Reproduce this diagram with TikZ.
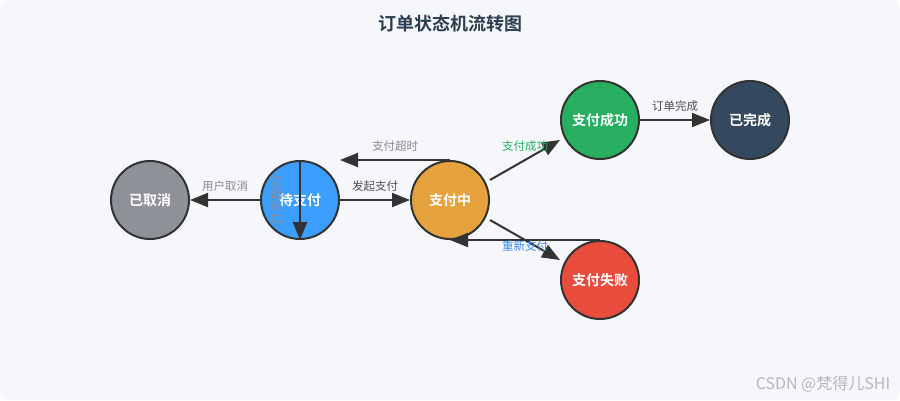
\documentclass[tikz,border=0pt]{standalone}
\usepackage{fontspec}
\setmainfont{Noto Sans CJK SC}[BoldFont={Noto Sans CJK SC Bold}]
\usetikzlibrary{arrows.meta, positioning}
\definecolor{bgpage}{HTML}{F5F7FB}
\definecolor{titleblue}{HTML}{2C3E50}
\definecolor{edgedark}{HTML}{333333}
\definecolor{cancelgray}{HTML}{8E9198}
\definecolor{pendingblue}{HTML}{3C9EFF}
\definecolor{payingorange}{HTML}{E6A23C}
\definecolor{successgreen}{HTML}{27AE60}
\definecolor{donenavy}{HTML}{34495E}
\definecolor{failedred}{HTML}{E74C3C}
\definecolor{labelgray}{HTML}{8A8A8A}
\definecolor{labeldark}{HTML}{4A4F55}
\definecolor{retryblue}{HTML}{3E8BF0}

\begin{document}
\begin{tikzpicture}[x=1pt, y=-1pt,
        state/.style={circle, draw=edgedark, line width=2pt, minimum size=78pt,
                      inner sep=0pt, text=white, font=\fontsize{14}{16}\selectfont\bfseries},
        arr/.style={-{Triangle[length=18pt,width=14pt]}, line width=2pt, draw=edgedark},
        lbl/.style={font=\fontsize{11.5}{13}\selectfont, text=labelgray}
      ]
        % page
        \fill[white] (0,0) rectangle (900,400);
        \fill[bgpage, rounded corners=10pt] (0,0) rectangle (900,400);
        \node[font=\fontsize{18}{20}\selectfont\bfseries, text=titleblue] (title) at (450,24) {订单状态机流转图};

        % states
        \node[state, fill=cancelgray]   (cancel)  at (150,200) {已取消};
        \node[state, fill=pendingblue]  (pending) at (300,200) {待支付};
        \node[state, fill=payingorange] (paying)  at (450,200) {支付中};
        \node[state, fill=successgreen] (success) at (600,120) {支付成功};
        \node[state, fill=donenavy]     (done)    at (750,120) {已完成};
        \node[state, fill=failedred]    (failed)  at (600,280) {支付失败};

        % transitions
        \draw[arr] (pending.west) -- (cancel.east);
        \draw[arr] (pending.east) -- (paying.west);
        \draw[arr] (paying.north) -- (pending.east |- pending.north);
        \draw[arr] (pending.north) -- (pending.south);
        \draw[arr] ([yshift=20pt]paying.east) -- ([yshift=-20pt]success.west);
        \draw[arr] ([yshift=-20pt]paying.east) -- ([yshift=20pt]failed.west);
        \draw[arr] (failed.north) -- (paying.south);
        \draw[arr] (success.east) -- (done.west);

        % labels
        \node[lbl] (lcancel)  at (225,186) {用户取消};
        \node[lbl, text=labeldark] (lstart) at (375,186) {发起支付};
        \node[lbl] (ltimeout) at (395,146) {支付超时};
        \node[lbl, rotate=90, font=\fontsize{12.5}{14}\selectfont, text=black!45] (lexpire) at (277,200) {订单超时};
        \node[lbl, text=successgreen] (lsuccess) at (525,146) {支付成功};
        \node[lbl, text=retryblue] (lretry) at (525,246) {重新支付};
        \node[lbl, text=labeldark] (ldone) at (675,106) {订单完成};

        % watermark
        \node[font=\fontsize{16}{18}\selectfont, text=black!28] (mark) at (823,384) {CSDN @梵得儿SHI};
      \end{tikzpicture}
\end{document}
